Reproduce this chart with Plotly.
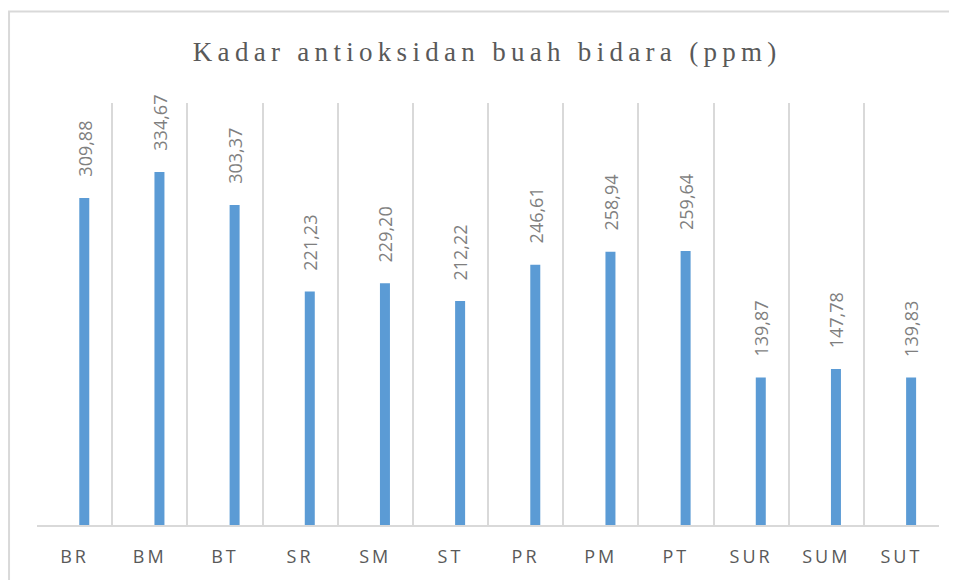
"""Bar chart of antioxidant levels in bidara fruit samples."""

import plotly.graph_objects as go

categories = ["BR", "BM", "BT", "SR", "SM", "ST", "PR", "PM", "PT", "SUR", "SUM", "SUT"]
values = [309.88, 334.67, 303.37, 221.23, 229.20, 212.22, 246.61, 258.94, 259.64,
          139.87, 147.78, 139.83]
labels = [f"{v:.2f}".replace(".", ",") for v in values]

BAR_COLOR = "#5B9BD5"
GRID = "#d9d9d9"
TEXT = "#595959"


def spaced(s, px):
    return f'<span style="letter-spacing:{px}px">{s}</span>'


fig = go.Figure()
fig.add_trace(
    go.Bar(
        x=categories,
        y=values,
        width=0.133,
        offset=0.0625,
        marker=dict(color=BAR_COLOR, line=dict(width=0)),
        hoverinfo="x+y",
    )
)

for cat, v, lab in zip(categories, values, labels):
    fig.add_annotation(
        x=cat,
        y=v,
        text=lab,
        textangle=-90,
        showarrow=False,
        xanchor="center",
        yanchor="bottom",
        xshift=10,
        yshift=19,
        font=dict(family="Open Sans", size=18, color="#7f7f7f"),
    )

# outer chart frame (cut off at the right and bottom, like the source)
fig.add_shape(
    type="rect",
    xref="paper",
    yref="paper",
    x0=-0.0310,
    x1=1.06,
    y0=-0.2,
    y1=1.2171,
    line=dict(color=GRID, width=2),
    fillcolor="rgba(0,0,0,0)",
    layer="below",
)

# the page body adds an 8px margin, so the figure is 8px smaller each way
fig.update_layout(
    width=949,
    height=572,
    margin=dict(l=29, r=18, t=95, b=51),
    paper_bgcolor="white",
    plot_bgcolor="white",
    showlegend=False,
    title=dict(
        text=spaced("Kadar antioksidan buah bidara (ppm)", 5.3),
        x=0.505,
        xanchor="center",
        y=0.923,
        yanchor="middle",
        font=dict(family="Liberation Serif", size=27, color=TEXT),
    ),
    xaxis=dict(
        type="category",
        tickson="boundaries",
        showgrid=True,
        gridcolor=GRID,
        gridwidth=1.5,
        showline=True,
        linecolor=GRID,
        linewidth=2,
        ticks="",
        tickmode="array",
        tickvals=categories,
        ticktext=[spaced(c, 3) for c in categories],
        tickfont=dict(family="Open Sans", size=18, color=TEXT),
        ticklabelstandoff=14,
    ),
    yaxis=dict(
        range=[0, 400],
        visible=False,
        showgrid=False,
        zeroline=False,
    ),
)

fig.write_html("out.html")
